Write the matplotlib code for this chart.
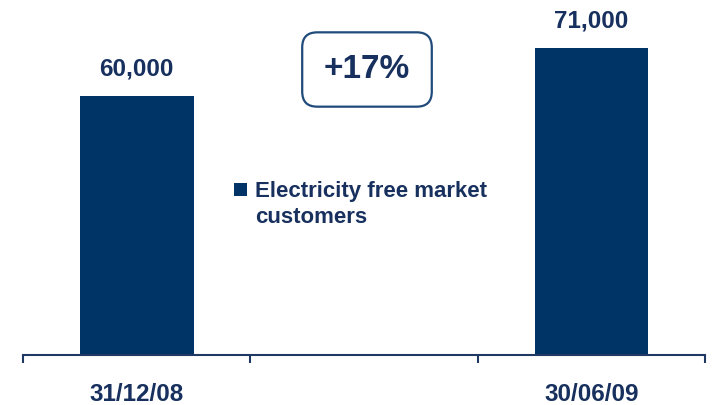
import matplotlib
matplotlib.use("Agg")
from matplotlib import pyplot as plt
from matplotlib.patches import Rectangle

# data
categories = ["31/12/08", "", "30/06/09"]
customers = [60000, None, 71000]
value_labels = ["60,000", "", "71,000"]
series_lines = ["Electricity free market", "customers"]
growth_label = "+17%"

bar_color = "#003366"
text_color = "#17305e"
line_color = "#1f3864"

plt.rcParams["font.family"] = ["Liberation Sans", "DejaVu Sans"]
plt.rcParams["font.weight"] = "bold"

W, H = 713, 405
fig = plt.figure(figsize=(W / 100, H / 100), dpi=100)
ax = fig.add_axes([23 / W, 50 / H, 682 / W, 354 / H])

xs = [i for i, v in enumerate(customers) if v is not None]
vals = [v for v in customers if v is not None]
ax.bar(xs, vals, width=0.5, color=bar_color)

for x, v, lab in zip(range(len(customers)), customers, value_labels):
    if v is None:
        continue
    ax.annotate(lab, (x, v), xytext=(0, 19.5), textcoords="offset points",
                ha="center", va="center", fontsize=17.5, fontweight="bold",
                color=text_color)

ax.set_xlim(-0.5, len(categories) - 0.5)
ax.set_ylim(0, 82000)

for s in ["top", "right", "left"]:
    ax.spines[s].set_visible(False)
ax.spines["bottom"].set_color(line_color)
ax.spines["bottom"].set_linewidth(1.5)
ax.set_yticks([])

ax.set_xticks(range(len(categories)))
ax.set_xticklabels(categories, fontsize=17.5, fontweight="bold", color=text_color)
ax.tick_params(axis="x", which="major", length=0, pad=20)
ax.set_xticks([i - 0.5 for i in range(len(categories) + 1)], minor=True)
ax.tick_params(axis="x", which="minor", length=6, width=1.5, color=line_color,
               direction="out")

# growth box
fig.text(367 / W, 1 - 69.5 / H, growth_label, ha="center", va="center",
         fontsize=24, fontweight="bold", color=text_color,
         bbox=dict(boxstyle="round,pad=0.65,rounding_size=0.45", fc="white",
                   ec="#1f4a7a", lw=1.6))

# legend, drawn by hand so the key sits beside the first line
fig.add_artist(Rectangle((234 / W, 1 - 196 / H), 13 / W, 13 / H,
                         transform=fig.transFigure, fc=bar_color, ec="none"))
for i, line in enumerate(series_lines):
    fig.text(255 / W, 1 - (197 + 26 * i) / H, line, ha="left", va="baseline",
             fontsize=16, fontweight="bold", color=text_color)

fig.savefig("out.png", dpi=100)
